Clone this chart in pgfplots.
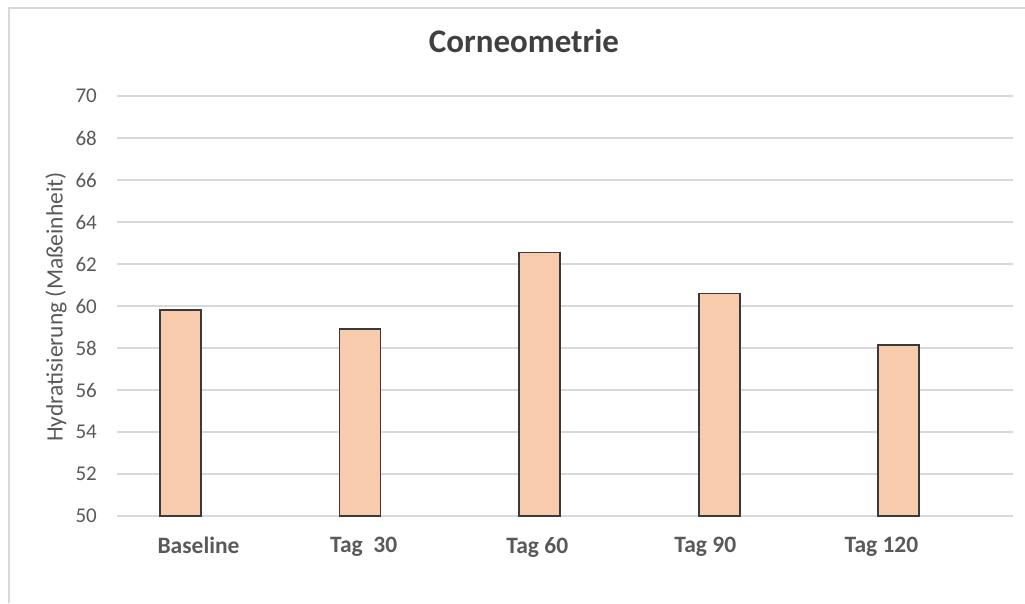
\documentclass[border=0pt]{standalone}
\usepackage{fontspec}
\setmainfont{Carlito}
\usepackage{pgfplots}
\pgfplotsset{compat=1.18}

\definecolor{barfill}{HTML}{F8CBAD}
\definecolor{baredge}{HTML}{3A3A3A}
\definecolor{gridgray}{HTML}{D9D9D9}
\definecolor{textgray}{HTML}{595959}
\definecolor{titlegray}{HTML}{404040}

\begin{document}
\begin{tikzpicture}[x=1pt,y=1pt]
% chart area with a light frame on the left and top
\useasboundingbox (0,0) rectangle (1025,603);
\draw[gridgray, line width=2pt] (9,0) -- (9,595) -- (1025,595);

\begin{axis}[
  at={(117pt,87pt)}, anchor=south west,
  width=895.7pt, height=420pt, scale only axis,
  % bars grow from the 50 baseline of the value axis
  y filter/.expression={y-50},
  ymin=0, ymax=20,
  ytick={0,2,...,20},
  yticklabel={\pgfmathparse{\tick+50}\pgfmathprintnumber{\pgfmathresult}},
  xmin=-0.354, xmax=4.635,
  % category labels sit on their own evenly spread positions
  xtick={0.1,1.02,1.987,2.923,3.904},
  xticklabels={Baseline, Tag~~30, Tag 60, Tag 90, Tag 120},
  major tick length=0pt,
  axis line style={draw=none},
  ymajorgrids,
  grid style={gridgray, line width=2pt},
  /pgf/number format/assume math mode=true,
  yticklabel style={anchor=east, inner sep=0pt, xshift=-20pt,
    font=\fontsize{21}{25}\selectfont, text=textgray},
  xticklabel style={anchor=north, inner sep=0pt, yshift=-21pt,
    font=\bfseries\fontsize{23.5}{28}\selectfont, text=textgray},
  title={Corneometrie},
  title style={at={(0.4544,1.1167)}, anchor=center, inner sep=0pt,
    font=\bfseries\fontsize{33}{38}\selectfont, text=titlegray},
  ylabel={Hydratisierung (Maßeinheit)},
  ylabel style={at={(-0.0681,0.4976)}, anchor=center, rotate=0, inner sep=0pt,
    font=\fontsize{23.5}{28}\selectfont, text=textgray},
]
\addplot[ybar, bar width=41pt, fill=barfill, draw=baredge, line width=1.7pt]
  coordinates {(0,59.8) (1,58.9) (2,62.55) (3,60.6) (4,58.15)};
\end{axis}
\end{tikzpicture}
\end{document}
